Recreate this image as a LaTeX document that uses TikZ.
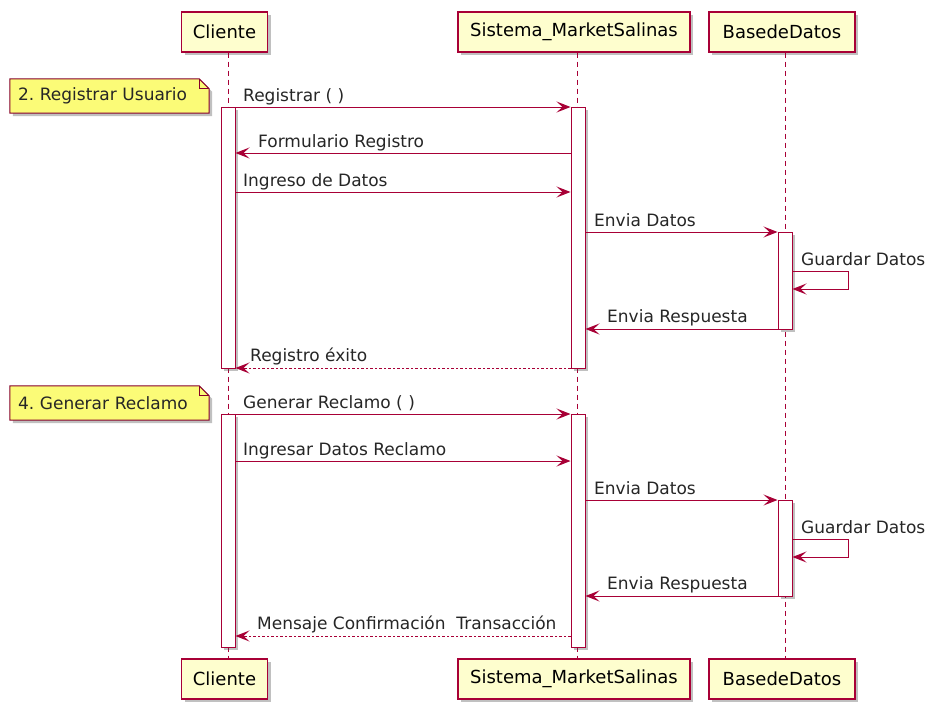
\documentclass[tikz,border=0pt]{standalone}
\usepackage{fontspec}
\setmainfont{DejaVu Sans}
\usetikzlibrary{arrows.meta,shadows,backgrounds}
\definecolor{pborder}{HTML}{A80036}
\definecolor{pfill}{HTML}{FEFECE}
\definecolor{nfill}{HTML}{FBFB77}
\tikzset{
  shad/.style={drop shadow={shadow xshift=3pt,shadow yshift=-3pt,opacity=.35,fill=black!70}},
  part/.style={draw=pborder, fill=pfill, line width=1.2pt, minimum height=40pt, inner sep=0pt,
    font=\fontsize{18}{20}\selectfont, shad},
  life/.style={draw=pborder, line width=.8pt, dash pattern=on 5pt off 4pt},
  actbar/.style={draw=pborder, fill=white, line width=1pt, minimum width=14pt, inner sep=0pt, shad},
  msg/.style={draw=pborder, line width=1pt, -{Stealth[length=14pt,width=11pt,inset=6pt]}},
  ret/.style={msg, dash pattern=on 2.5pt off 2pt},
  lbl/.style={anchor=base west, font=\fontsize{17}{19}\selectfont, text=black!85, inner sep=0pt},
  notebox/.style={draw=none, inner xsep=8pt, inner ysep=0pt, minimum height=34pt, text width=183pt,
    align=left, font=\fontsize{17}{19}\selectfont, text=black!85},
  notefill/.style={draw=pborder!80!black, fill=nfill, line width=1pt, shad},
}
\begin{document}
\begin{tikzpicture}[x=1pt,y=-1pt]
\useasboundingbox (0,0) rectangle (933,701);

% participants
\node[part, minimum width=86pt]  (c1) at (224.5,32) {Cliente};
\node[part, minimum width=232pt] (s1) at (574,32) {Sistema\_MarketSalinas};
\node[part, minimum width=146pt] (b1) at (782,32) {BasedeDatos};
\node[part, minimum width=86pt]  (c2) at (224.5,679) {Cliente};
\node[part, minimum width=232pt] (s2) at (574,679) {Sistema\_MarketSalinas};
\node[part, minimum width=146pt] (b2) at (782,679) {BasedeDatos};

% lifelines
\draw[life] ([xshift=3.5pt]c1.south) -- ([xshift=3.5pt]c2.north);
\draw[life] ([xshift=3pt]s1.south) -- ([xshift=3pt]s2.north);
\draw[life] ([xshift=3pt]b1.south) -- ([xshift=3pt]b2.north);

% activation bars
\node[actbar, minimum height=261pt] (ca1) at (228,237.5) {};
\node[actbar, minimum height=261pt] (sa1) at (578,237.5) {};
\node[actbar, minimum height=97pt]  (ba1) at (785,280.5) {};
\node[actbar, minimum height=233pt] (ca2) at (228,530.5) {};
\node[actbar, minimum height=233pt] (sa2) at (578,530.5) {};
\node[actbar, minimum height=96pt]  (ba2) at (785,548) {};

% notes
\node[notebox] (n1) at (109.5,96) {2.\ Registrar Usuario};
\node[notebox] (n2) at (109.5,403) {4.\ Generar Reclamo};
\begin{scope}[on background layer]
\fill[white] (0,0) rectangle (933,701);
\foreach \n in {n1,n2}{
  \path[notefill] (\n.north west) -- ([xshift=-10pt]\n.north east) -- ([yshift=-10pt]\n.north east)
     -- (\n.south east) -- (\n.south west) -- cycle;
  \draw[draw=pborder!80!black, line width=1pt] ([xshift=-10pt]\n.north east) |- ([yshift=-10pt]\n.north east);
}
\end{scope}

% messages: registro
\draw[msg] (ca1.east |- 0,107) -- (sa1.west |- 0,107);
\node[lbl] (m1) at (243,101) {Registrar ( )};
\draw[msg] (sa1.west |- 0,153) -- (ca1.east |- 0,153);
\node[lbl] (m2) at (258,147) {Formulario Registro};
\draw[msg] (ca1.east |- 0,192) -- (sa1.west |- 0,192);
\node[lbl] (m3) at (243,186) {Ingreso de Datos};
\draw[msg] (sa1.east |- 0,232) -- (ba1.west |- 0,232);
\node[lbl] (m4) at (594,226) {Envia Datos};
\draw[msg] (ba1.east |- 0,271) -- (848,271) -- (848,289) -- (ba1.east |- 0,289);
\node[lbl] (m5) at (801,265) {Guardar Datos};
\draw[msg] (ba1.west |- 0,329) -- (sa1.east |- 0,329);
\node[lbl] (m6) at (607,322) {Envia Respuesta};
\draw[ret] (sa1.west |- 0,368) -- (ca1.east |- 0,368);
\node[lbl] (m7) at (250,361) {Registro éxito};

% messages: reclamo
\draw[msg] (ca2.east |- 0,414) -- (sa2.west |- 0,414);
\node[lbl] (r1) at (243,408) {Generar Reclamo ( )};
\draw[msg] (ca2.east |- 0,461) -- (sa2.west |- 0,461);
\node[lbl] (r2) at (243,455) {Ingresar Datos Reclamo};
\draw[msg] (sa2.east |- 0,500) -- (ba2.west |- 0,500);
\node[lbl] (r3) at (594,494) {Envia Datos};
\draw[msg] (ba2.east |- 0,539) -- (848,539) -- (848,557) -- (ba2.east |- 0,557);
\node[lbl] (r4) at (801,533) {Guardar Datos};
\draw[msg] (ba2.west |- 0,596) -- (sa2.east |- 0,596);
\node[lbl] (r5) at (607,589) {Envia Respuesta};
\draw[ret] (sa2.west |- 0,636) -- (ca2.east |- 0,636);
\node[lbl] (r6) at (257,629) {Mensaje Confirmación\ \ Transacción};
\end{tikzpicture}
\end{document}
